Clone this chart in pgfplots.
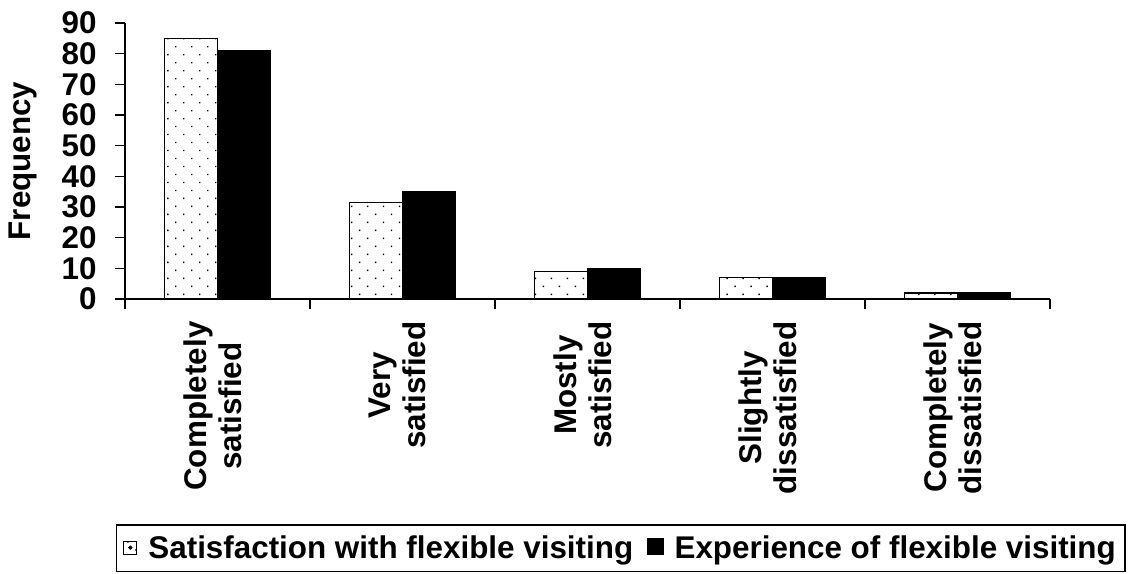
\documentclass[border=0pt]{standalone}
\usepackage{fontspec}
\setmainfont{Liberation Sans}
\usepackage{pgfplots}
\pgfplotsset{compat=1.18}
\usetikzlibrary{patterns.meta}

\newcommand{\lbl}{\fontsize{31.5}{35}\selectfont\bfseries}

\begin{document}
\begin{tikzpicture}
\path[use as bounding box] (0,0) rectangle (1131bp,574bp);
\begin{axis}[
    at={(125bp,275bp)}, anchor=south west,
    scale only axis,
    width=925bp, height=276bp,
    xmin=-0.5, xmax=4.5,
    ymin=0, ymax=90,
    ytick={0,10,...,90},
    xtick={0,1,2,3,4},
    xticklabels={Completely\\satisfied, Very\\satisfied, Mostly\\satisfied, Slightly\\dissatisfied, Completely\\dissatisfied},
    minor xtick={-0.5,0.5,...,4.5},
    axis lines=left,
    axis line style={line width=1.4bp, -},
    tick style={line width=1.4bp, black},
    tick align=outside,
    major tick length=10bp,
    minor tick length=10bp,
    major x tick style={draw=none},
    /pgf/number format/assume math mode=true,
    tick label style={font=\lbl},
    yticklabel style={xshift=-15bp},
    xticklabel style={rotate=90, anchor=east, align=center, xshift=-9bp, yshift=5bp},
    ylabel={Frequency},
    every axis y label/.style={at={(axis description cs:-0.1103,0.5)}, rotate=90, anchor=center, font=\lbl},
    ybar=0pt,
    bar width=53bp,
    legend columns=2,
    legend style={at={(axis description cs:0.5357,-0.989)}, anchor=south,
        draw=black, line width=1.4bp, font=\lbl,
        /tikz/every odd column/.append style={column sep=9bp},
        /tikz/every even column/.append style={column sep=12bp},
        inner xsep=7bp, inner ysep=9bp},
]
\addplot[draw=black, line width=1.4bp, fill=white,
    postaction={pattern={Dots[distance=11.3bp, radius=1bp, angle=45]}},
    legend image code/.code={\draw[line width=1.2bp, fill=white] (0bp,-6bp) rectangle (13bp,7bp); \fill (6.5bp,0.5bp) circle (1.1bp);}]
    coordinates {(0,85) (1,31.5) (2,9) (3,7) (4,2)};
\addlegendentry{Satisfaction with flexible visiting}
\addplot[draw=black, line width=1.4bp, fill=black,
    legend image code/.code={\fill (0bp,-6bp) rectangle (15bp,9bp);}]
    coordinates {(0,81) (1,35) (2,10) (3,7) (4,2)};
\addlegendentry{Experience of flexible visiting}
\end{axis}
\end{tikzpicture}
\end{document}
